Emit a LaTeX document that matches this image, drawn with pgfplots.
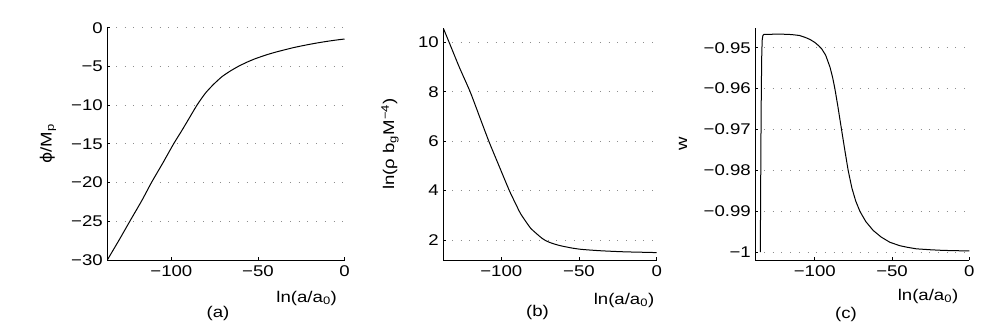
\documentclass[border=0pt]{standalone}
\usepackage{fontspec}
\setmainfont{Liberation Sans}[FakeStretch=1.2]
\newfontfamily\dejavu{DejaVu Sans}[FakeStretch=1.1]
\usepackage{pgfplots}
\pgfplotsset{compat=1.18}

\pgfplotsset{
  mystyle/.style={
    scale only axis,
    anchor=south west,
    axis lines*=left,
    tick align=inside,
    major tick length=3pt,
    ymajorgrids,
    grid style={black!45, dash pattern=on 0.9pt off 7.8pt, line width=0.9pt},
    axis line style={line width=0.8pt},
    every tick/.style={black, line width=0.8pt},
    tick label style={font=\fontsize{15.5}{18}\selectfont},
    /pgf/number format/assume math mode=true,
    yticklabel style={xshift=-1pt},
    xticklabel style={yshift=-2pt},
    xtick={-100,-50,0},
    xticklabels={−100,−50,0},
    xmax=0,
    height=232.3pt,
  },
  curve/.style={black, line width=1pt, no marks},
}

\pgfplotstableread{
x y
-137 -30
-130 -27.35
-124 -25
-117 -22.3
-111.5 -20
-105 -17.5
-98.7 -15
-94 -13.3
-90 -11.8
-85.2 -10.0
-80.4 -8.47
-75.6 -7.31
-70.8 -6.33
-66 -5.6
-61.2 -4.98
-56.3 -4.45
-51.5 -4.0
-45 -3.5
-40 -3.17
-35 -2.88
-30 -2.6
-25 -2.36
-20 -2.14
-15 -1.94
-10 -1.76
-5 -1.6
0 -1.46
}\tablephi

\pgfplotstableread{
x y
-137.3 10.58
-133.5 10
-127 9
-120 8
-114 7
-108 6
-101.7 5.04
-94.8 4.0
-91 3.5
-87.7 3.08
-84 2.73
-81 2.47
-77 2.24
-74 2.08
-71 1.96
-67 1.86
-62 1.77
-55 1.68
-49 1.625
-40 1.58
-31.6 1.55
-20 1.52
-10 1.505
0 1.49
}\tablerho

\pgfplotstableread{
x y
-135.3 -1.0
-135.1 -0.99
-134.9 -0.975
-134.6 -0.96
-134.3 -0.951
-134.0 -0.948
-133.6 -0.9470
-133 -0.94675
-125 -0.94668
-120 -0.9467
-115 -0.94678
-110 -0.9470
-106 -0.9475
-103 -0.9480
-100 -0.9487
-97.5 -0.9495
-95.5 -0.9503
-93 -0.9518
-90.2 -0.9547
-88.5 -0.9572
-87 -0.96
-85 -0.9645
-82.7 -0.97
-80.5 -0.9752
-78.4 -0.98
-76 -0.9843
-73.5 -0.9875
-70.8 -0.99
-67 -0.9925
-62.2 -0.99468
-57 -0.9963
-51.5 -0.99755
-45 -0.9984
-40 -0.9988
-34.2 -0.99917
-25 -0.9994
-17 -0.99955
-8 -0.99963
0 -0.99968
}\tablew

\begin{document}
\begin{tikzpicture}
\path[use as bounding box] (0,0) rectangle (981pt,327pt);

% panel (a)
\begin{axis}[mystyle, at={(107.3pt,67pt)}, width=237.2pt,
  xmin=-137, ymin=-30, ymax=0,
  ytick={-30,-25,-20,-15,-10,-5,0},
  yticklabels={−30,−25,−20,−15,−10,−5,0}]
\addplot[curve, smooth, tension=0.4] table {\tablephi};
\end{axis}

% panel (b)
\begin{axis}[mystyle, at={(443.3pt,67pt)}, width=213.4pt,
  xmin=-137.3, ymin=1.19, ymax=10.6,
  ytick={2,4,6,8,10},
  yticklabels={2,4,6,8,10}]
\addplot[curve, smooth, tension=0.4] table {\tablerho};
\end{axis}

% panel (c)
\begin{axis}[mystyle, at={(755.3pt,67pt)}, width=214pt,
  xmin=-138.5, ymin=-1.0019, ymax=-0.9451,
  ytick={-1,-0.99,-0.98,-0.97,-0.96,-0.95},
  yticklabels={−1,−0.99,−0.98,−0.97,−0.96,−0.95}]
\addplot[curve] table {\tablew};
\end{axis}

\begingroup
\fontsize{15.5}{18}\selectfont
\node[anchor=base] at (306.7pt,25pt) {ln(a/a\textsubscript{0})};
\node[anchor=base] at (218pt,10pt) {(a)};
\node[anchor=base] at (624pt,23pt) {ln(a/a\textsubscript{0})};
\node[anchor=base] at (537.5pt,11pt) {(b)};
\node[anchor=base] at (928pt,27pt) {ln(a/a\textsubscript{0})};
\node[anchor=base] at (846pt,9pt) {(c)};
\node[rotate=90] at (48pt,183pt) {{\dejavu ϕ}/M\textsubscript{p}};
\node[rotate=90] at (390pt,183pt) {ln(ρ b\textsubscript{g}M\textsuperscript{−4})};
\node[rotate=90] at (683pt,183pt) {w};
\endgroup
\end{tikzpicture}
\end{document}
